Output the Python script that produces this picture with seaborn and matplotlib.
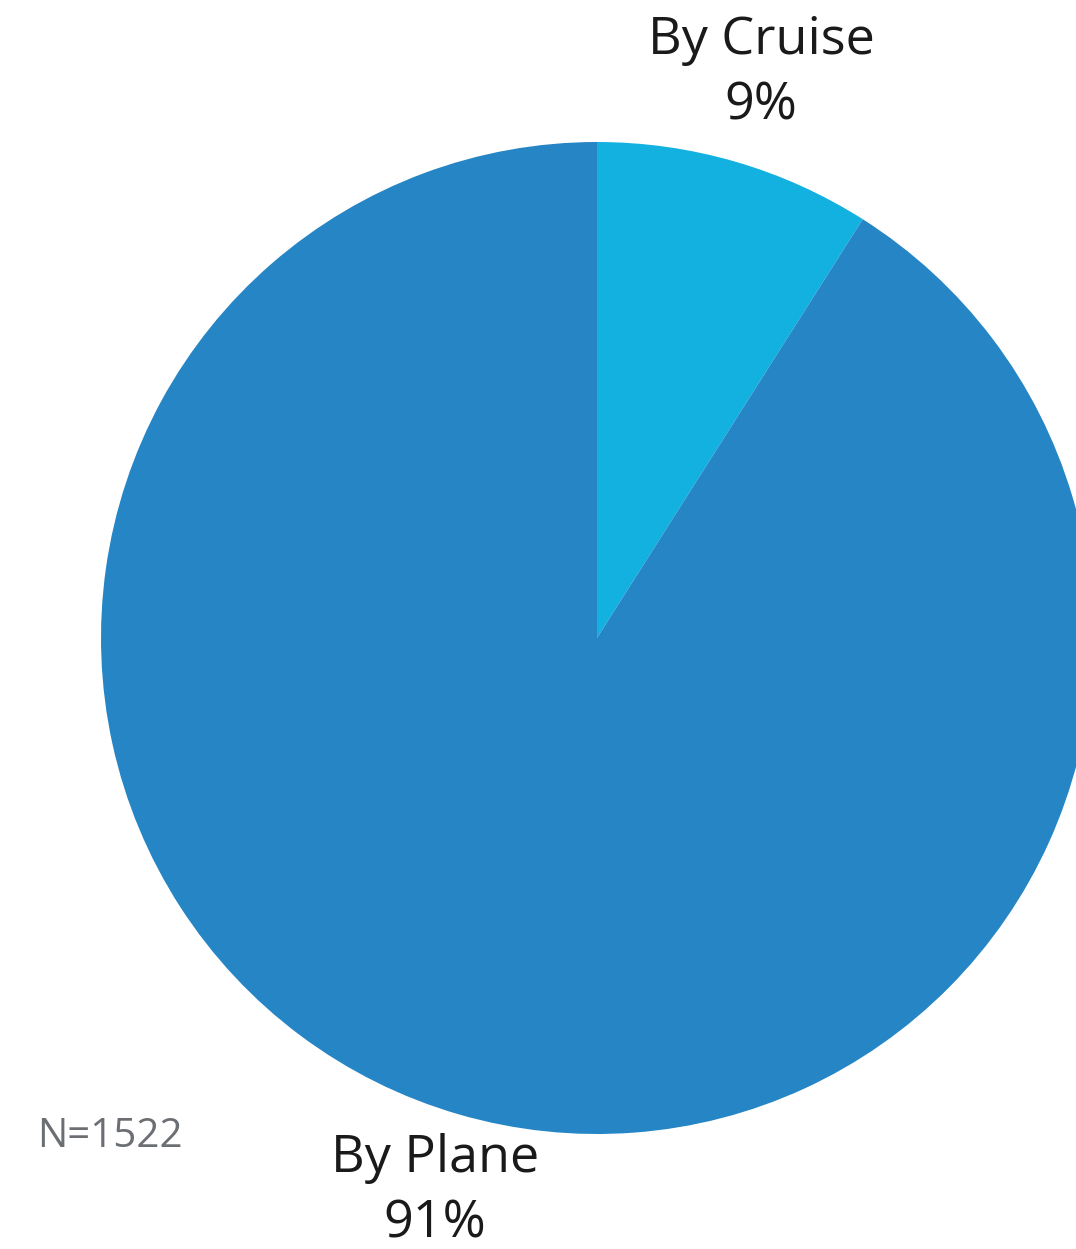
import matplotlib
matplotlib.use("Agg")
import matplotlib.pyplot as plt
import seaborn as sns

sns.set_theme(style="white")
plt.rcParams['font.family'] = ['Open Sans', 'DejaVu Sans']

# Travel mode shares
categories = ["By Cruise", "By Plane"]
shares = [9, 91]
sample_label = "N=1522"

colors = sns.color_palette(["#12B1E0", "#2585C5"])

W, H = 1076, 1249
fig = plt.figure(figsize=(W / 100, H / 100), dpi=100)
ax = fig.add_axes([0, 0, 1, 1])

ax.pie(shares, colors=colors, startangle=90, counterclock=False,
       center=(597, H - 638), radius=496,
       wedgeprops=dict(linewidth=0))

ax.set_xlim(0, W)
ax.set_ylim(0, H)
ax.set_aspect('auto')
ax.axis('off')

# label anchor: (x centre, baseline of the name line); value line sits 65 px lower
label_pos = {"By Cruise": (761, H - 54), "By Plane": (435, H - 1172)}
for name, val in zip(categories, shares):
    x, y = label_pos[name]
    ax.text(x, y, name, ha='center', va='baseline',
            fontsize=37.5, color='#1a1a1a')
    ax.text(x, y - 65, f"{val}%", ha='center', va='baseline',
            fontsize=37.5, color='#1a1a1a')

ax.text(37, H - 1137, sample_label, ha='left', va='center',
        fontsize=29, color='#6b6e73')

fig.savefig("out.png", dpi=100)
